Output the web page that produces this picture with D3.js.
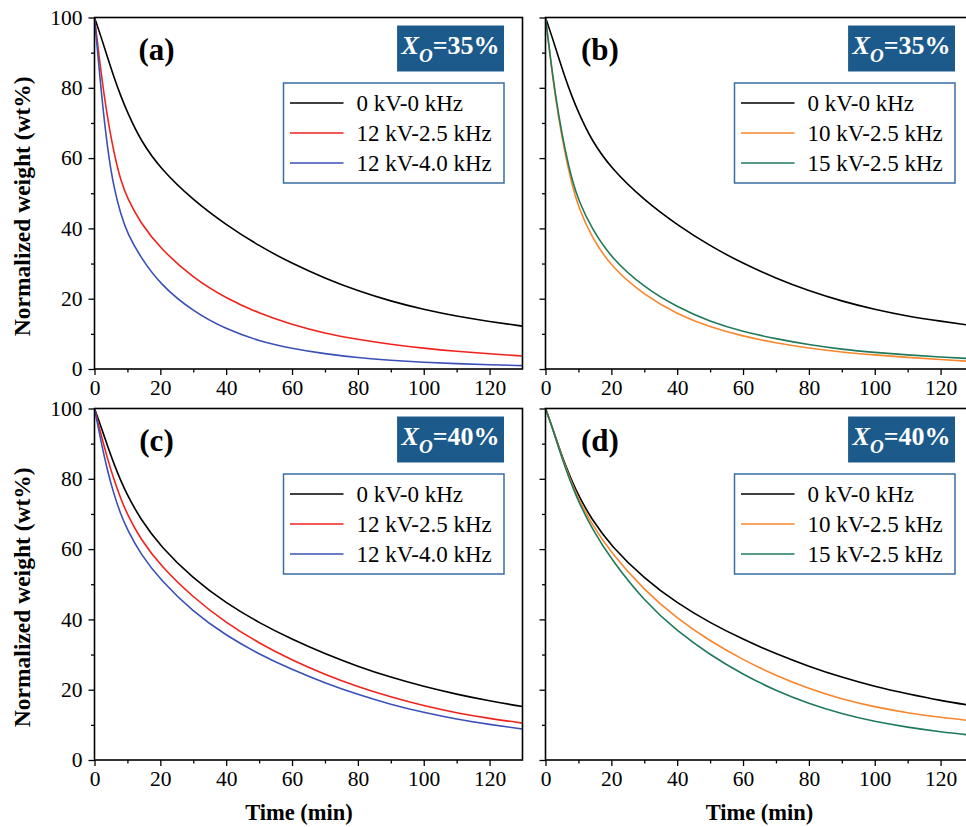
<!DOCTYPE html>
<html>
<head>
<meta charset="utf-8">
<script src="https://cdn.jsdelivr.net/npm/d3@7"></script>
<style>
  body { margin: 0; background: #fff; }
  svg { display: block; font-family: "Liberation Serif", "Times New Roman", serif; }
</style>
</head>
<body>
<svg id="chart" width="966" height="827"></svg>
<script>
// time axis (min) shared by every curve
var times = [0, 2, 4, 6, 8, 10, 14, 20, 30, 40, 50, 60, 70, 80, 90, 100, 110, 120, 130];

// Xo = 35%
var a_0kV   = [100, 94.5, 88.5, 82.8, 77.6, 73, 65, 57, 48, 41, 35, 30, 25.8, 22.2, 19.3, 16.9, 15, 13.5, 12.2];
var a_12_25 = [100, 84, 71, 61, 53.5, 48.5, 41.5, 34.3, 25.8, 20.1, 15.8, 12.6, 10.1, 8.4, 7.0, 5.9, 5.0, 4.3, 3.7];
var a_12_40 = [100, 79, 62, 51, 44, 38.5, 31.8, 24, 16.3, 11.3, 7.9, 5.8, 4.3, 3.2, 2.45, 1.9, 1.5, 1.2, 0.95];
var b_0kV   = [100, 94.5, 88.5, 82.8, 77.6, 73, 65, 57, 48, 41, 35, 30, 25.8, 22.2, 19.3, 16.9, 15, 13.6, 12.3];
var b_10_25 = [100, 84, 71, 61, 52.5, 46, 37.5, 29, 21, 15.6, 11.9, 9.3, 7.4, 5.9, 4.8, 4.0, 3.3, 2.7, 2.1];
var b_15_25 = [100, 84.5, 72, 62, 54, 48, 40, 31.5, 23.2, 17.6, 13.4, 10.6, 8.6, 6.9, 5.6, 4.7, 4.0, 3.4, 2.9];

// Xo = 40%
var c_0kV   = [100, 94.8, 89.2, 84, 79.4, 75.3, 68.5, 60.8, 51.6, 44.6, 39, 34.3, 30.2, 26.6, 23.5, 20.9, 18.7, 16.8, 15.2];
var c_12_25 = [100, 92.5, 85.5, 79.5, 74.3, 69.8, 62.8, 55.3, 46.2, 39.0, 33.2, 28.4, 24.3, 20.8, 17.9, 15.4, 13.4, 11.8, 10.5];
var c_12_40 = [100, 90.5, 82, 75.3, 69.8, 65.5, 58.6, 51.2, 42.1, 35.4, 30.1, 25.7, 21.9, 18.6, 15.8, 13.5, 11.6, 10.1, 8.8];
var d_0kV   = [100, 94.8, 89.2, 84, 79.4, 75.3, 68.5, 60.8, 51.6, 44.6, 39, 34.3, 30.2, 26.6, 23.5, 20.9, 18.8, 16.9, 15.4];
var d_10_25 = [100, 94.8, 89, 83.6, 78.7, 74.3, 67.2, 58.8, 48.3, 40.2, 33.8, 28.5, 24.0, 20.3, 17.3, 15.1, 13.4, 12.1, 11.1];
var d_15_25 = [100, 94.8, 88.8, 83.2, 78.2, 73.6, 66, 57, 45.2, 36.6, 29.9, 24.3, 19.7, 16, 13.1, 10.9, 9.3, 8.0, 7.0];

var labelsA = ["0 kV-0 kHz", "12 kV-2.5 kHz", "12 kV-4.0 kHz"];
var labelsB = ["0 kV-0 kHz", "10 kV-2.5 kHz", "15 kV-2.5 kHz"];
var colorsA = ["#000000", "#f0221c", "#3a50b6"];
var colorsB = ["#000000", "#f7862c", "#1f7a5a"];

var xTicks = [0, 20, 40, 60, 80, 100, 120];
var yTicks = [0, 20, 40, 60, 80, 100];

var panels = [
  { tag: "(a)", xo: "35%", x0: 94.5,  y0: 17.5,  lab: 62,   tOff: -9.5, series: [a_0kV, a_12_25, a_12_40], names: labelsA, colors: colorsA, yLabels: true },
  { tag: "(b)", xo: "35%", x0: 545.5, y0: 17.5,  lab: 54.5, tOff: 0,    series: [b_0kV, b_10_25, b_15_25], names: labelsB, colors: colorsB, yLabels: false },
  { tag: "(c)", xo: "40%", x0: 94.5,  y0: 408.5, lab: 62,   tOff: -9.5, series: [c_0kV, c_12_25, c_12_40], names: labelsA, colors: colorsA, yLabels: true },
  { tag: "(d)", xo: "40%", x0: 545.5, y0: 408.5, lab: 54.5, tOff: 0,    series: [d_0kV, d_10_25, d_15_25], names: labelsB, colors: colorsB, yLabels: false }
];

var W = 428, H = 351.5;
var svg = d3.select("#chart");

var x = d3.scaleLinear().domain([0, 130]).range([0, W]);
var y = d3.scaleLinear().domain([0, 100]).range([H, 0]);

var line = d3.line()
  .x(function (d) { return x(d[0]); })
  .y(function (d) { return y(d[1]); })
  .curve(d3.curveBasis);

panels.forEach(function (p, i) {
  var g = svg.append("g").attr("transform", "translate(" + p.x0 + "," + p.y0 + ")");

  g.append("clipPath").attr("id", "clip" + i)
    .append("rect").attr("width", W).attr("height", H);

  // minor ticks
  var xMinor = d3.axisBottom(x).tickValues(d3.range(10, 130, 20)).tickSize(3.5).tickFormat("");
  var yMinor = d3.axisLeft(y).tickValues(d3.range(10, 100, 20)).tickSize(3.5).tickFormat("");
  g.append("g").attr("transform", "translate(0," + H + ")").call(xMinor).select(".domain").remove();
  g.append("g").call(yMinor).select(".domain").remove();

  var xAxis = d3.axisBottom(x).tickValues(xTicks).tickSize(6).tickPadding(5).tickSizeOuter(0);
  var yAxis = d3.axisLeft(y).tickValues(yTicks).tickSize(6).tickPadding(6).tickSizeOuter(0);
  if (!p.yLabels) yAxis.tickFormat("");

  var xg = g.append("g").attr("transform", "translate(0," + H + ")").call(xAxis);
  var yg = g.append("g").call(yAxis);
  [xg, yg].forEach(function (ax) {
    ax.select(".domain").remove();
    ax.attr("font-family", null).attr("font-size", null);
    ax.selectAll("text").style("font-family", "'Liberation Serif', serif").style("font-size", "21.5px").attr("fill", "#000");
  });
  g.selectAll(".tick line").attr("stroke", "#000").attr("stroke-width", 1.3);

  // curves
  var plot = g.append("g").attr("clip-path", "url(#clip" + i + ")");
  p.series.forEach(function (vals, k) {
    var pts = times.map(function (t, j) { return [t, vals[j]]; });
    plot.append("path")
      .datum(pts)
      .attr("fill", "none")
      .attr("stroke", p.colors[k])
      .attr("stroke-width", 1.6)
      .attr("d", line);
  });

  // frame
  g.append("rect")
    .attr("width", W).attr("height", H)
    .attr("fill", "none").attr("stroke", "#000").attr("stroke-width", 1.6);

  // panel tag
  g.append("text")
    .attr("x", p.lab).attr("y", 42)
    .attr("text-anchor", "middle")
    .attr("font-size", 31).attr("font-weight", "bold")
    .text(p.tag);

  // Xo box
  var boxRight = W - 18.5;
  var xo = g.append("g");
  var rect = xo.append("rect").attr("fill", "#1c5a8b");
  var txt = xo.append("text").attr("fill", "#fff").attr("font-weight", "bold").attr("font-size", 26).attr("y", 36);
  txt.append("tspan").attr("font-style", "italic").text("X");
  txt.append("tspan").attr("font-style", "italic").attr("font-size", 19).attr("dy", 8).text("O");
  txt.append("tspan").attr("dy", -8).text("=" + p.xo);
  var tw = txt.node().getComputedTextLength();
  var bw = tw + 9;
  rect.attr("x", boxRight - bw).attr("y", 8).attr("width", bw).attr("height", 46);
  txt.attr("x", boxRight - bw + 4.5);

  // legend
  var lg = g.append("g").attr("transform", "translate(" + (boxRight - 220.5) + ",65.5)");
  lg.append("rect").attr("width", 220.5).attr("height", 100)
    .attr("fill", "#fff").attr("stroke", "#3a6da2").attr("stroke-width", 1.5);
  p.names.forEach(function (nm, k) {
    var yy = 20 + k * 30;
    lg.append("line").attr("x1", 6.5).attr("x2", 60).attr("y1", yy).attr("y2", yy)
      .attr("stroke", p.colors[k]).attr("stroke-width", 1.6);
    lg.append("text").attr("x", 73).attr("y", yy + 8)
      .attr("font-size", 23).text(nm);
  });

  // axis titles
  if (p.yLabels) {
    svg.append("text")
      .attr("transform", "translate(30," + (p.y0 + H / 2 + 13) + ") rotate(-90)")
      .attr("text-anchor", "middle")
      .attr("font-size", 23.5).attr("font-weight", "bold")
      .text("Normalized weight (wt%)");
  }
  if (p.y0 > 100) {
    svg.append("text")
      .attr("x", p.x0 + W / 2 + p.tOff).attr("y", 820)
      .attr("text-anchor", "middle")
      .attr("font-size", 22.5).attr("font-weight", "bold")
      .text("Time (min)");
  }
});
</script>
</body>
</html>
